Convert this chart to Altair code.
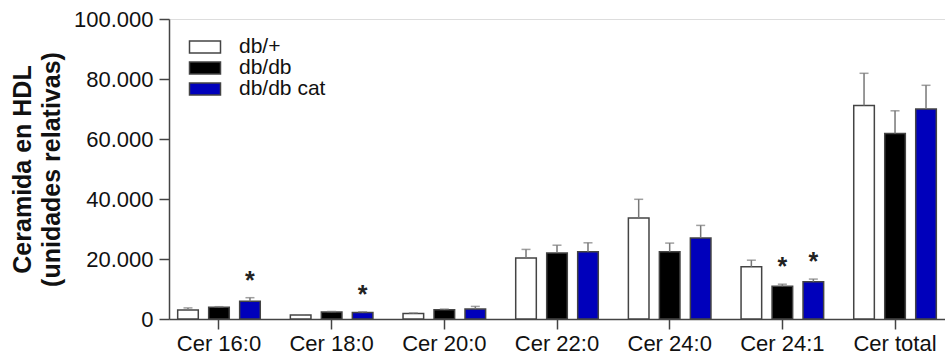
import altair as alt
import pandas as pd

categories = ["Cer 16:0", "Cer 18:0", "Cer 20:0", "Cer 22:0", "Cer 24:0", "Cer 24:1", "Cer total"]
groups = ["db/+", "db/db", "db/db cat"]
colors = ["#ffffff", "#000000", "#0000bb"]

mean_dbp = [3000, 1300, 1800, 20300, 33700, 17400, 71200]
top_dbp = [3700, 1400, 2000, 23200, 39900, 19600, 81900]
mean_dbdb = [3900, 2300, 3100, 22000, 22400, 10900, 61800]
top_dbdb = [4100, 2500, 3300, 24600, 25300, 11600, 69400]
mean_cat = [5900, 2200, 3300, 22400, 27000, 12400, 70000]
top_cat = [7100, 2400, 4200, 25400, 31200, 13300, 77900]
sig_dbp = []
sig_dbdb = ["Cer 24:1"]
sig_cat = ["Cer 16:0", "Cer 18:0", "Cer 24:1"]

rows = []
for g, means, tops, sig in [("db/+", mean_dbp, top_dbp, sig_dbp),
                            ("db/db", mean_dbdb, top_dbdb, sig_dbdb),
                            ("db/db cat", mean_cat, top_cat, sig_cat)]:
    for c, m, t in zip(categories, means, tops):
        rows.append({"cat": c, "group": g, "mean": m, "top": t,
                     "sig": "*" if c in sig else ""})
df = pd.DataFrame(rows)

FONT = "Liberation Sans"
x_axis = alt.Axis(title=None, labelAngle=0, labelFontSize=22, labelColor="#111",
                  labelFont=FONT, ticks=True, tickSize=10, tickColor="#444", tickWidth=1.5,
                  domainColor="#444", domainWidth=1.5, labelPadding=4,
                  bandPosition=0.5, tickBand="center", labelAlign="center")
x_enc = alt.X("cat:N", sort=categories,
              scale=alt.Scale(paddingInner=0.267, paddingOuter=0.077),
              axis=x_axis)
xo_enc = alt.XOffset("group:N", sort=groups, scale=alt.Scale(paddingInner=0.335, paddingOuter=0))
y_scale = alt.Scale(domain=[0, 100000], nice=False)
y_axis = alt.Axis(values=[0, 20000, 40000, 60000, 80000, 100000],
                  labelExpr="datum.value == 0 ? '0' : replace(format(datum.value, ','), ',', '.')",
                  title=["Ceramida en HDL", "(unidades relativas)"],
                  titleFontSize=25, titleFont=FONT, titleFontWeight="bold",
                  titleLineHeight=29, titlePadding=9, titleColor="#111",
                  labelFontSize=22, labelFont=FONT, labelColor="#111", labelPadding=6,
                  tickSize=10, tickColor="#444", tickWidth=1.5,
                  domainColor="#444", domainWidth=1.5, grid=False)

bars = alt.Chart(df).mark_bar(stroke="#444", strokeWidth=1.5).encode(
    x=x_enc,
    xOffset=xo_enc,
    y=alt.Y("mean:Q", scale=y_scale, axis=y_axis),
    fill=alt.Fill("group:N", sort=groups,
                  scale=alt.Scale(domain=groups, range=colors),
                  legend=alt.Legend(title=None, orient="none", legendX=25, legendY=17,
                                    padding=0, symbolType="M-1.55,-0.6H1.55V0.6H-1.55Z",
                                    symbolSize=400, symbolStrokeColor="#444",
                                    symbolStrokeWidth=1.5, labelFontSize=21, labelFont=FONT,
                                    labelColor="#111", labelOffset=23, rowPadding=0)),
)

rules = alt.Chart(df).mark_rule(color="#777", strokeWidth=1.5).encode(
    x=x_enc, xOffset=xo_enc,
    y=alt.Y("mean:Q", scale=y_scale, axis=y_axis), y2="top:Q")

caps = alt.Chart(df).mark_tick(color="#777", thickness=1.5, size=9).encode(
    x=x_enc, xOffset=xo_enc,
    y=alt.Y("top:Q", scale=y_scale, axis=y_axis))

stars = alt.Chart(df).mark_text(fontSize=25, fontWeight="bold", font=FONT, color="#222",
                                baseline="alphabetic", dy=-9).encode(
    x=x_enc, xOffset=xo_enc,
    y=alt.Y("top:Q", scale=y_scale, axis=y_axis), text="sig:N")

chart = alt.layer(bars, rules, caps, stars).properties(
    width=776, height=300,
    padding={"top": 8, "left": 10, "right": 0, "bottom": 5},
).configure_view(stroke=None).configure(background="white")

chart.save("out.html", embed_options={"renderer": "svg", "actions": False})
